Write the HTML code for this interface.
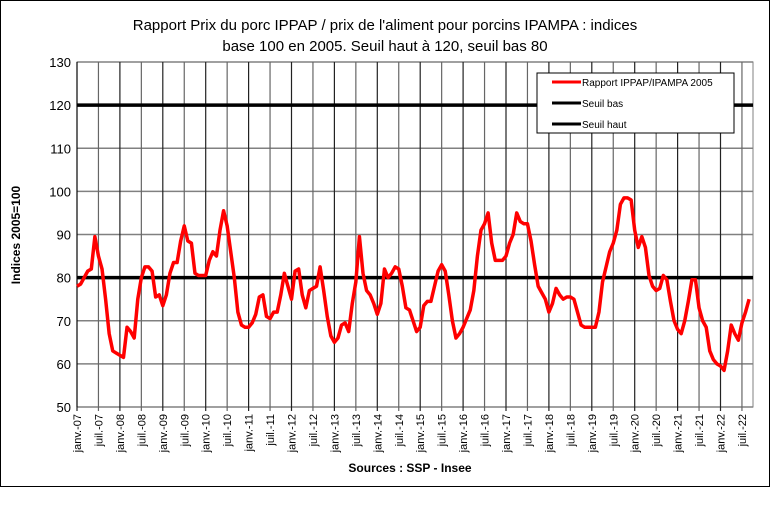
<!DOCTYPE html>
<html><head><meta charset="utf-8"><style>
body{margin:0;background:#fff;}
svg text{font-family:"Liberation Sans",sans-serif;}
</style></head><body>
<svg width="771" height="504" xmlns="http://www.w3.org/2000/svg">
<rect x="0.5" y="0.5" width="769" height="486" fill="#fff" stroke="#000"/>
<text x="385" y="30" text-anchor="middle" font-size="15">Rapport Prix du porc IPPAP / prix de l'aliment pour porcins IPAMPA : indices</text>
<text x="385" y="51" text-anchor="middle" font-size="15">base 100 en 2005. Seuil haut à 120, seuil bas 80</text>
<g id="grid"></g>
<g id="axes"></g>
<g id="series"></g>
<text transform="translate(20,235) rotate(-90)" text-anchor="middle" font-size="12" font-weight="bold">Indices 2005=100</text>
<text x="410" y="472" text-anchor="middle" font-size="12" font-weight="bold">Sources : SSP - Insee</text>
<g>
<rect x="537" y="73" width="197" height="60" fill="#fff" stroke="#000"/>
<line x1="552" y1="82" x2="581" y2="82" stroke="#f00" stroke-width="3"/>
<text x="582" y="86" font-size="10">Rapport IPPAP/IPAMPA 2005</text>
<line x1="552" y1="103" x2="581" y2="103" stroke="#000" stroke-width="3"/>
<text x="582" y="107" font-size="10">Seuil bas</text>
<line x1="552" y1="124" x2="581" y2="124" stroke="#000" stroke-width="3"/>
<text x="582" y="128" font-size="10">Seuil haut</text>
</g>
</svg>
<script>
const yTicks=[50,60,70,80,90,100,110,120,130];
const thresholds=[80,120];
const startYear=2007;
const values=[
78,78.5,80,81.5,82,89.5,85,82,75,67,63,62.5,
62,61.5,68.5,67.5,66,75,80,82.5,82.5,81.5,75.5,76,
73.5,76,81,83.5,83.5,88.5,92,88.5,88,81,80.5,80.5,
80.5,84,86,85,91,95.5,92,86,80,72,69,68.5,
68.5,69.5,71.5,75.5,76,71,70.5,72,72,76,81,78,
75,81.5,82,76,73,77,77.5,78,82.5,77,71,66.5,
65,66,69,69.5,67.5,74,79,89.5,81,77,76,74,
71.5,74,82,80,81,82.5,82,78,73,72.5,70,67.5,
68.5,73.5,74.5,74.5,78,81.5,83,81.5,76,70,66,67,
68.5,70.5,72.5,77,85,91,92.5,95,88,84,84,84,
85,88,90,95,93,92.5,92.5,88.5,83,78,76.5,75,
72,74,77.5,76,75,75.5,75.5,75,72,69,68.5,68.5,
68.5,68.5,72,79,82.5,86,88,91,97,98.5,98.5,98,
91,87,89.5,87,80.5,78,77,77.5,80.5,79.5,74.5,70,
68,67,70,74.5,79.5,79.5,73,70,68.5,63,61,60,
59.5,58.5,63,69,67,65.5,69.5,72,75];
const L=77,R=753,T=62,B=407,X0=77,MW=21.45/6;
const NS="http://www.w3.org/2000/svg";
function y(v){return B-(v-50)*(B-T)/80;}
function x(i){return X0+i*MW;}
function mk(t,a,p){const e=document.createElementNS(NS,t);for(const k in a)e.setAttribute(k,a[k]);p.appendChild(e);return e;}
const grid=document.getElementById('grid'),axes=document.getElementById('axes'),ser=document.getElementById('series');
mk('rect',{x:L,y:T,width:R-L,height:B-T,fill:'#fff',stroke:'#808080'},grid);
yTicks.forEach(v=>{
 const g=mk('line',{x1:L,x2:R,y1:y(v),y2:y(v),stroke:'#808080','stroke-width':1.5},grid);
 
 
 const t=mk('text',{x:L-6,y:y(v)+5,'text-anchor':'end','font-size':13},axes);
 t.textContent=v;
 
 
});
const nLabels=Math.floor((values.length-1)/6)+1;
for(let k=0;k<nLabels;k++){
 const xi=x(k*6);
 const g=mk('line',{x1:xi,x2:xi,y1:T,y2:B+4,stroke:k%2?'#666':'#222','stroke-width':1.2},grid);
 
 
 const yr=String((startYear+Math.floor(k/2))%100).padStart(2,'0');
 const t=mk('text',{transform:`translate(${xi+4},${B+7}) rotate(-90)`,'text-anchor':'end','font-size':11},axes);
 t.textContent=(k%2?'juil.-':'janv.-')+yr;
 
 
}
mk('line',{x1:L,x2:L,y1:T,y2:B,stroke:'#000','stroke-width':1},axes);
thresholds.forEach(v=>{
 const l=mk('line',{x1:L,x2:R,y1:y(v),y2:y(v),stroke:'#000','stroke-width':3.5},ser);
 
 
});
const p=mk('polyline',{points:values.map((v,i)=>x(i)+','+y(v)).join(' '),fill:'none',stroke:'#f00','stroke-width':3.5,'stroke-linejoin':'round'},ser);


</script>
</body></html>
